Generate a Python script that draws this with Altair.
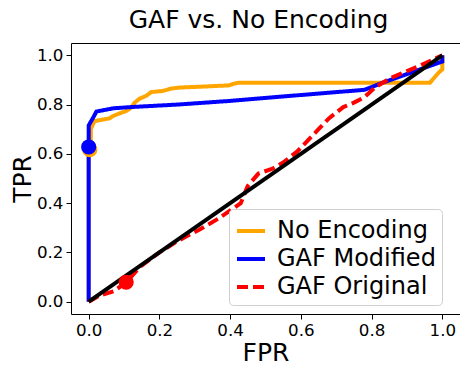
import altair as alt
import pandas as pd

# ---- data ----
series_names = ["No Encoding", "GAF Modified", "GAF Original"]
series_colors = ["orange", "blue", "red"]

no_enc_fpr = [0.0, 0.0, 0.006, 0.006, 0.012, 0.017, 0.031, 0.059, 0.068, 0.087, 0.106, 0.12, 0.13, 0.144,
              0.162, 0.177, 0.209, 0.233, 0.256, 0.322, 0.397, 0.411, 0.425, 0.965, 0.99, 1.0, 1.0]
no_enc_tpr = [0.0, 0.61, 0.63, 0.70, 0.72, 0.733, 0.737, 0.744, 0.753, 0.764, 0.774, 0.787, 0.808, 0.824,
              0.835, 0.851, 0.855, 0.865, 0.869, 0.873, 0.878, 0.885, 0.889, 0.889, 0.93, 0.943, 1.0]

gaf_mod_fpr = [0.0, 0.0, 0.005, 0.01, 0.022, 0.07, 0.12, 0.25, 0.4, 0.55, 0.78, 0.83, 1.0, 1.0]
gaf_mod_tpr = [0.0, 0.715, 0.728, 0.74, 0.772, 0.785, 0.79, 0.80, 0.815, 0.833, 0.86, 0.888, 0.975, 1.0]

gaf_orig_fpr = [0.0, 0.03, 0.07, 0.106, 0.144, 0.2, 0.25, 0.31, 0.37, 0.43, 0.45, 0.48, 0.52, 0.55,
                0.59, 0.62, 0.65, 0.68, 0.72, 0.75, 0.78, 0.81, 0.85, 0.89, 0.94, 1.0]
gaf_orig_tpr = [0.0, 0.025, 0.042, 0.078, 0.14, 0.2, 0.245, 0.29, 0.34, 0.40, 0.47, 0.52, 0.54, 0.565,
                0.61, 0.655, 0.70, 0.745, 0.79, 0.808, 0.83, 0.87, 0.905, 0.93, 0.96, 1.0]

diag_fpr = [0.0, 1.0]
diag_tpr = [0.0, 1.0]

marker_fpr = [0.003, 0.0, 0.106]
marker_tpr = [0.617, 0.628, 0.079]
marker_colors = ["orange", "blue", "red"]

tick_values = [0.0, 0.2, 0.4, 0.6, 0.8, 1.0]

# ---- tables ----
def series_df(name, xs, ys):
    return pd.DataFrame({"fpr": xs, "tpr": ys, "series": name, "idx": range(len(xs))})

df_no = series_df(series_names[0], no_enc_fpr, no_enc_tpr)
df_mod = series_df(series_names[1], gaf_mod_fpr, gaf_mod_tpr)
df_orig = series_df(series_names[2], gaf_orig_fpr, gaf_orig_tpr)
df_diag = pd.DataFrame({"fpr": diag_fpr, "tpr": diag_tpr, "idx": [0, 1]})
df_mark = pd.DataFrame({"fpr": marker_fpr, "tpr": marker_tpr, "c": marker_colors})

FONT = "DejaVu Sans"

xscale = alt.Scale(domain=[-0.05, 1.05], nice=False, zero=False)
yscale = alt.Scale(domain=[-0.05, 1.05], nice=False, zero=False)

x_enc = alt.X("fpr:Q", scale=xscale,
              axis=alt.Axis(title="FPR", values=tick_values, format=".1f"))
y_enc = alt.Y("tpr:Q", scale=yscale,
              axis=alt.Axis(title="TPR", values=tick_values, format=".1f"))

color_enc = alt.Color("series:N",
                      scale=alt.Scale(domain=series_names, range=series_colors),
                      legend=alt.Legend(title=None))
dash_enc = alt.StrokeDash("series:N",
                          scale=alt.Scale(domain=series_names, range=[[1, 0], [1, 0], [11, 5]]),
                          legend=alt.Legend(title=None))

def series_layer(df):
    return alt.Chart(df).mark_line(strokeWidth=4).encode(
        x=x_enc, y=y_enc, color=color_enc, strokeDash=dash_enc, order="idx:Q"
    )

diag = alt.Chart(df_diag).mark_line(color="black", strokeWidth=4).encode(
    x=x_enc, y=y_enc, order="idx:Q"
)

markers = alt.Chart(df_mark).mark_point(filled=True, size=230, opacity=1).encode(
    x=x_enc, y=y_enc, color=alt.Color("c:N", scale=None)
)

chart = alt.layer(
    series_layer(df_no), series_layer(df_mod), series_layer(df_orig), diag, markers
).properties(
    width=389,
    height=271,
    autosize=alt.AutoSizeParams(type="none"),
    padding={"left": 63, "top": 35, "right": 0, "bottom": 52},
    title=alt.TitleParams("GAF vs. No Encoding", font=FONT, fontSize=25, fontWeight="normal",
                          color="black", anchor="middle", dx=-7, offset=-10,
                          baseline="alphabetic"),
).configure_view(
    stroke="black", strokeWidth=1
).configure_axis(
    domain=False, grid=False, ticks=True, tickSize=5, tickColor="black", tickWidth=1,
    labelFont=FONT, labelFontSize=16.7, labelColor="black", labelPadding=3,
    titleFont=FONT, titleFontSize=25, titleFontWeight="normal", titleColor="black",
).configure_axisX(
    titlePadding=2
).configure_axisY(
    titlePadding=1
).configure_legend(
    orient="none", legendX=158, legendY=166,
    labelFont=FONT, labelFontSize=24, labelColor="black", labelOffset=10, labelLimit=400,
    symbolType="stroke", symbolSize=784, symbolStrokeWidth=4,
    padding=6, rowPadding=-1, strokeColor="#d0d0d0", fillColor="white", cornerRadius=4,
)

chart.save("out.html", embed_options={"renderer": "svg", "actions": False})
